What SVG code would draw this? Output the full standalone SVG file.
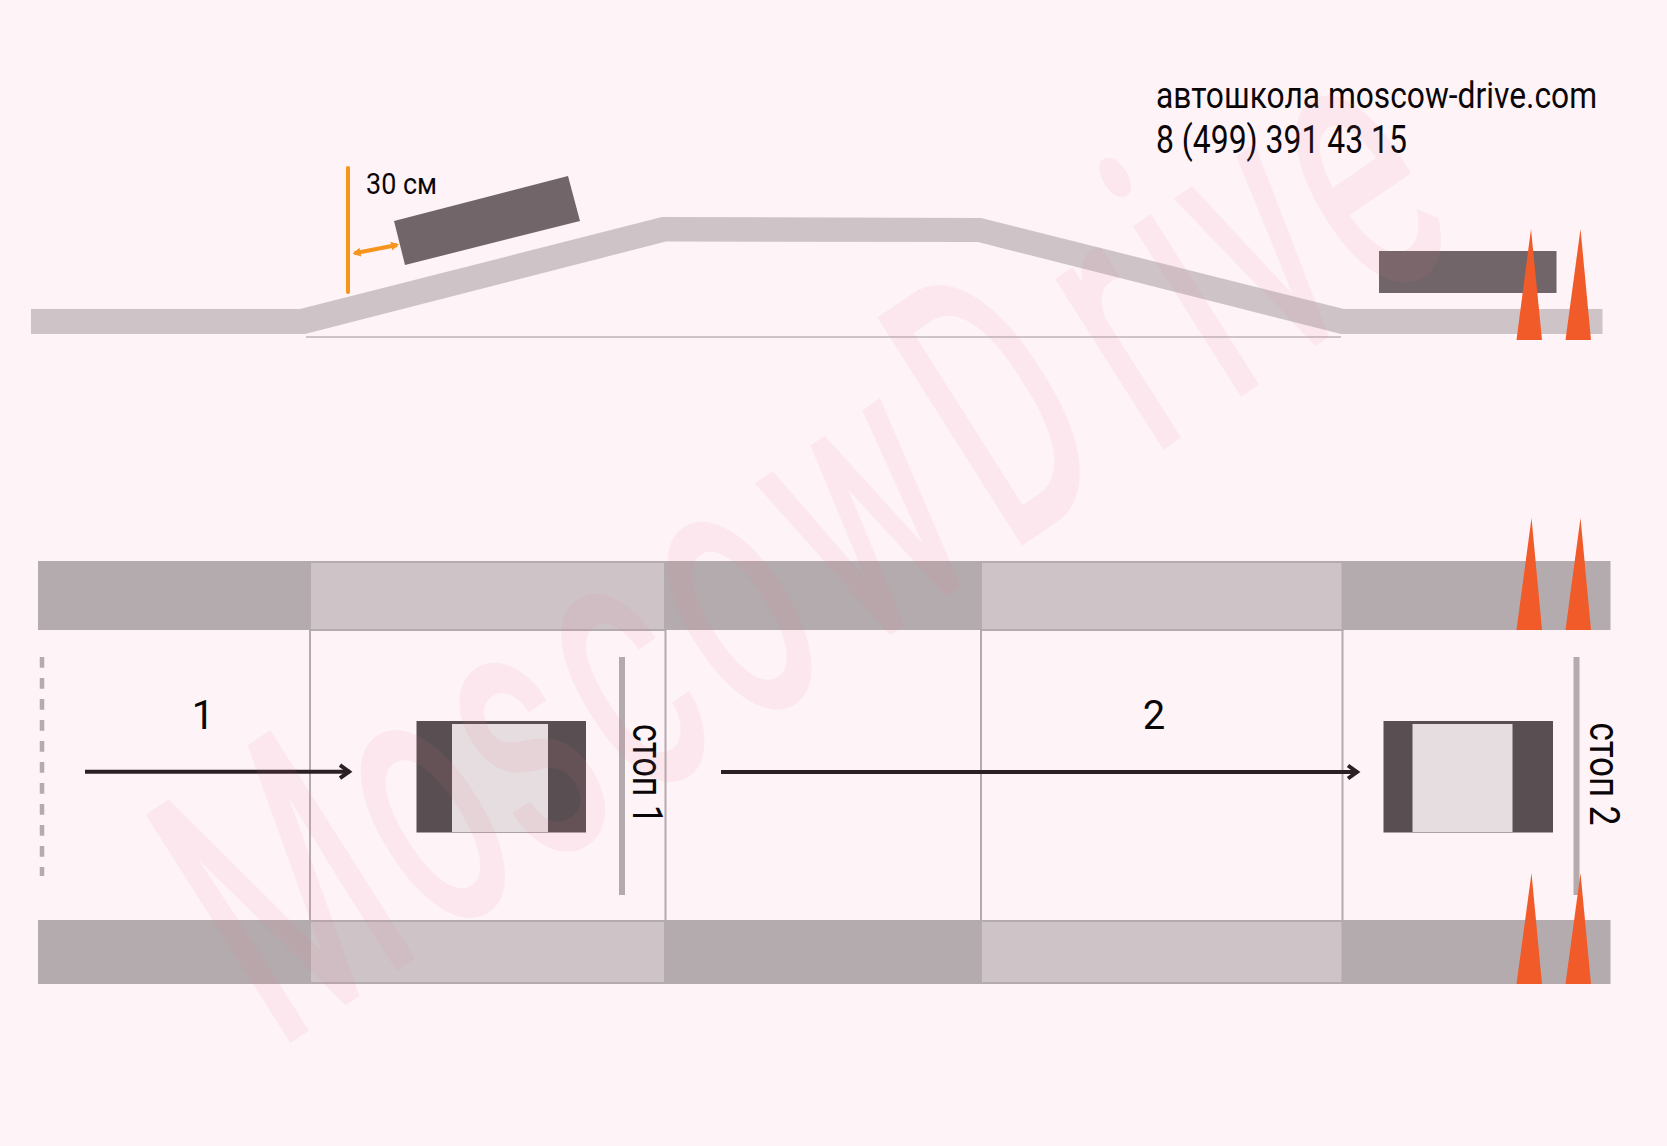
<svg xmlns="http://www.w3.org/2000/svg" width="1667" height="1146" viewBox="0 0 1667 1146">
<defs>
<style>
text{font-family:Roboto,"Liberation Sans",sans-serif;fill:#0a0608}
.road{fill:#cec4c8}
.band{fill:#b4abae}
.seg{fill:#cec4c8;stroke:#b4abae;stroke-width:2}
.grid{stroke:#b4abae;stroke-width:2;fill:none}
.stop{fill:#b4abae}
.car{fill:#716569}
.wheels{fill:#594f52}
.cabin{fill:#e6dde0}
.cone{fill:#f15a29}
.arrow{stroke:#2b2024;stroke-width:4;fill:none;marker-end:url(#chev)}
.wm{font-size:100px;fill:#e57692;stroke:#e57692;stroke-width:1.200px;opacity:.085;letter-spacing:5.4px}
</style>
<marker id="chev" markerUnits="userSpaceOnUse" markerWidth="20" markerHeight="20" refX="15" refY="10" orient="auto" overflow="visible"><path d="M5 3.5L14 10L5 16.500" fill="none" stroke="#2b2024" stroke-width="4"/></marker>
<marker id="oe" markerUnits="userSpaceOnUse" markerWidth="10" markerHeight="10" refX="6" refY="5" orient="auto-start-reverse"><path d="M0 0.500L8 5L0 9.500z" fill="#f7941d"/></marker>
</defs>
<rect id="background" width="1667" height="1146" fill="#fef3f6"/>
<g id="profile">
<polygon id="ramp" class="road" points="31,309 300,309 662,217 981,218 1344,309 1602.500,309 1602.500,334 1341,334 978,242 666,241.500 305,334 31,334"/>
<rect id="ramp-base" x="306" y="336" width="1035" height="2" fill="#cec4c8"/>
<polygon id="car-side-1" class="car" points="394,221 568,176 580,221 405,265"/>
<rect id="car-side-2" class="car" x="1379" y="251" width="177.500" height="42"/>
<polygon id="cone-side-1" class="cone" points="1531,229 1542,340 1516.500,340"/>
<polygon id="cone-side-2" class="cone" points="1580.500,229 1591,340 1565.500,340"/>
<rect id="limit-line" x="346" y="166" width="4" height="128" rx="2" fill="#f7941d"/>
<text id="limit-label" x="366" y="193.500" font-size="30" textLength="71" lengthAdjust="spacingAndGlyphs">30 см</text>
</g>
<g id="contacts">
<text x="1156" y="108" font-size="37" textLength="441" lengthAdjust="spacingAndGlyphs">автошкола moscow-drive.com</text>
<text x="1156" y="152.500" font-size="38" textLength="251" lengthAdjust="spacingAndGlyphs">8 (499) 391 43 15</text>
</g>
<g id="plan">
<g id="band-top">
<rect class="band" x="38" y="561" width="1572.500" height="69"/>
<rect class="seg" x="310" y="562" width="355" height="68"/>
<rect class="seg" x="981" y="562" width="361.500" height="68"/>
</g>
<g id="band-bottom">
<rect class="band" x="38" y="920" width="1572.500" height="64"/>
<rect class="seg" x="310" y="921" width="355" height="62"/>
<rect class="seg" x="981" y="921" width="361.500" height="62"/>
</g>
<g id="grid">
<path class="grid" d="M310 630V921M665.500 630V921M981 630V921M1342.500 630V921"/>
</g>
<g id="start-line"><path d="M42 657V876" stroke="#b4abae" stroke-width="4.500" stroke-dasharray="10.700 10.300" fill="none"/></g>
<g id="car-plan-1">
<rect class="wheels" x="416.500" y="721" width="169.500" height="111.500"/>
<rect class="cabin" x="452" y="724" width="96" height="108"/>
</g>
<g id="car-plan-2">
<rect class="wheels" x="1383.500" y="721" width="169.500" height="111.500"/>
<rect class="cabin" x="1412.500" y="724" width="100" height="108"/>
</g>
<g id="stop-1">
<rect class="stop" x="619" y="657" width="6" height="238"/>
<text transform="translate(633 724) rotate(90)" font-size="42" textLength="100" lengthAdjust="spacingAndGlyphs">стоп 1</text>
</g>
<g id="stop-2">
<rect class="stop" x="1573.500" y="657" width="6" height="238"/>
<text transform="translate(1590 722.500) rotate(90)" font-size="42" textLength="103" lengthAdjust="spacingAndGlyphs">стоп 2</text>
</g>
<g id="labels">
<text x="203" y="729" font-size="40" text-anchor="middle">1</text>
<text x="1154" y="729" font-size="40" text-anchor="middle">2</text>
</g>
<g id="cones">
<polygon class="cone" points="1531.500,518 1542,630 1516.500,630"/>
<polygon class="cone" points="1580.500,518 1591,630 1565.500,630"/>
<polygon class="cone" points="1531.500,873 1542,984 1516.500,984"/>
<polygon class="cone" points="1580.500,873 1591,984 1565.500,984"/>
</g>
</g>
<g id="connectors">
<path class="arrow" d="M85 771.700H350"/>
<path class="arrow" d="M721 772H1358"/>
<path d="M354.500 253.300L397 245" stroke="#f7941d" stroke-width="4" fill="none" marker-start="url(#oe)" marker-end="url(#oe)"/>
</g>
<text id="watermark" class="wm" transform="matrix(1.73 -1.176 2 3.155 276 1050)" x="0" y="0" dx="0 0 -3 0 3 5 5 12 5 0 0">MoscowDrive</text>
</svg>
